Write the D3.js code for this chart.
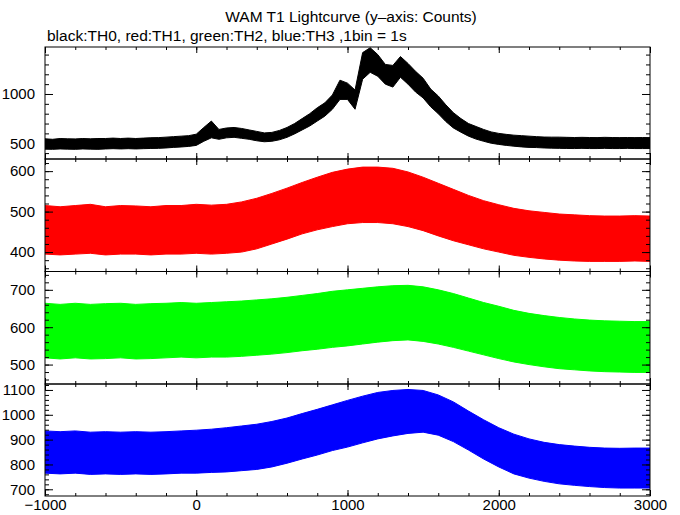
<!DOCTYPE html>
<html><head><meta charset="utf-8">
<script src="https://cdn.jsdelivr.net/npm/d3@7"></script>
<style>body{margin:0;background:#fff}svg{display:block}</style>
</head><body>
<svg id="c" width="680" height="515"></svg>
<script>
// ---- data (per-bin envelope, low/high counts) ----
const xTicksMajor = [-1000, 0, 1000, 2000, 3000];
const xTickLabels = ["\u22121000", "0", "1000", "2000", "3000"];

const th0Time = d3.range(-1000, 3001, 50);
const th0Low  = [440,438,442,440,438,442,440,438,442,445,442,445,442,445,447,448,452,458,462,468,
                 478,520,555,540,555,560,550,540,525,515,520,535,560,595,635,675,725,775,845,945,
                 945,845,1150,1220,1180,1100,1070,1170,1100,1020,960,870,800,720,655,612,572,542,520,500,
                 488,478,470,463,458,456,452,450,448,447,446,448,446,446,448,446,446,448,446,446,446];
const th0High = [545,540,548,545,544,548,545,548,548,552,548,552,548,552,556,557,562,567,572,577,
                 592,660,725,640,655,660,650,635,620,605,610,630,660,700,750,800,860,910,990,1140,
                 1110,1040,1420,1470,1400,1300,1290,1380,1310,1230,1160,1050,980,890,810,750,700,670,640,615,
                 600,590,582,577,572,567,563,562,562,560,558,560,558,557,560,558,557,558,557,558,557];

const th1Time = d3.range(-1000, 3001, 100);
const th1Low  = [395,393,395,397,393,395,395,393,395,395,397,395,397,400,408,420,432,445,455,463,
                 470,473,473,470,463,453,440,428,418,408,400,392,387,383,380,378,377,377,377,378,377];
const th1High = [515,512,515,518,512,515,514,512,515,515,518,516,518,524,533,545,558,572,585,597,
                 605,610,610,607,598,585,570,555,540,527,517,508,502,498,494,492,490,489,489,490,489];

const th2Time = d3.range(-1000, 3001, 100);
const th2Low  = [518,515,518,515,516,518,515,516,518,520,518,520,520,522,525,528,532,537,541,546,
                 550,555,560,564,566,562,555,546,536,526,516,507,500,494,489,486,483,481,480,479,479];
const th2High = [664,661,664,661,663,664,661,663,664,666,664,666,668,670,673,676,680,685,690,696,
                 700,704,708,711,712,708,700,690,678,666,656,645,637,631,626,622,619,617,616,615,615];

const th3Time = d3.range(-1000, 3001, 100);
const th3Low  = [765,762,765,760,762,760,762,760,762,765,765,768,770,775,780,790,805,822,838,856,
                 870,887,903,915,925,930,918,892,858,822,790,762,745,732,722,716,711,707,705,705,705];
const th3High = [935,932,935,930,932,930,932,930,932,935,938,942,948,955,962,973,987,1005,1022,1040,
                 1058,1075,1090,1098,1102,1098,1080,1052,1015,980,948,922,903,889,880,874,869,866,865,866,866];

const panelDomains = [[340, 1477], [352, 630], [448, 749], [673, 1124]];
const panelMajor = [[500, 1000], [400, 500, 600], [500, 600, 700], [700, 800, 900, 1000, 1100]];
const panelMinorStep = [100, 20, 20, 20];
const panelColors = ["#000000", "#ff0000", "#00ff00", "#0000ff"];

const series = [
  {t: th0Time, lo: th0Low, hi: th0High},
  {t: th1Time, lo: th1Low, hi: th1High},
  {t: th2Time, lo: th2Low, hi: th2High},
  {t: th3Time, lo: th3Low, hi: th3High}
];

// ---- layout ----
const L = 45, R = 650;
const panelTops = [47, 159, 271.5, 384];
const panelH = [112, 112.5, 112.5, 112];
const svg = d3.select("#c");
const font = "Liberation Sans, Arial, Helvetica, sans-serif";
const fmt = d3.format("d");

svg.append("text").attr("x", 351).attr("y", 22).attr("text-anchor", "middle")
  .attr("font-family", font).attr("font-size", 15.5).text("WAM T1 Lightcurve (y\u2013axis: Counts)");
svg.append("text").attr("x", 47).attr("y", 41).attr("text-anchor", "start")
  .attr("font-family", font).attr("font-size", 15.5).text("black:TH0, red:TH1, green:TH2, blue:TH3 ,1bin = 1s");

const x = d3.scaleLinear().domain([-1000, 3000]).range([L, R]);
const xMinor = d3.range(-1000, 3001, 200);

series.forEach((s, i) => {
  const top = panelTops[i], h = panelH[i], bot = top + h;
  const y = d3.scaleLinear().domain(panelDomains[i]).range([bot, top]);
  const g = svg.append("g");
  const clipId = "clip" + i;
  svg.append("clipPath").attr("id", clipId).append("rect")
    .attr("x", L).attr("y", top).attr("width", R - L).attr("height", h);
  const pts = s.t.map((t, k) => ({t, lo: s.lo[k], hi: s.hi[k]}));
  g.append("path").datum(pts).attr("clip-path", `url(#${clipId})`)
    .attr("d", d3.area().x(d => x(d.t)).y0(d => y(d.lo)).y1(d => y(d.hi)).curve(d3.curveLinear))
    .attr("fill", panelColors[i]).attr("stroke", panelColors[i]).attr("stroke-width", 1);

  // frame
  g.append("rect").attr("x", L).attr("y", top).attr("width", R - L).attr("height", h)
    .attr("fill", "none").attr("stroke", "#000").attr("stroke-width", 1);

  // y ticks (left & right, inward)
  const [d0, d1] = panelDomains[i];
  const minorVals = d3.range(Math.ceil(d0 / panelMinorStep[i]) * panelMinorStep[i], d1, panelMinorStep[i]);
  const yl = d3.axisLeft(y).tickValues(minorVals).tickSize(-4).tickFormat("");
  const yr = d3.axisRight(y).tickValues(minorVals).tickSize(-4).tickFormat("");
  const ylM = d3.axisLeft(y).tickValues(panelMajor[i]).tickSize(-8).tickPadding(10).tickFormat(fmt);
  const yrM = d3.axisRight(y).tickValues(panelMajor[i]).tickSize(-8).tickFormat("");
  [g.append("g").attr("transform", `translate(${L},0)`).call(yl),
   g.append("g").attr("transform", `translate(${R},0)`).call(yr),
   g.append("g").attr("transform", `translate(${L},0)`).call(ylM),
   g.append("g").attr("transform", `translate(${R},0)`).call(yrM)].forEach(a => {
     a.select(".domain").remove();
     a.selectAll("line").attr("stroke", "#000");
     a.selectAll("text").attr("font-family", font).attr("font-size", 15).attr("fill", "#000");
   });

  // x ticks top & bottom, inward
  const xb = d3.axisBottom(x).tickValues(xMinor).tickSize(-3).tickFormat("");
  const xt = d3.axisTop(x).tickValues(xMinor).tickSize(-3).tickFormat("");
  const xbM = d3.axisBottom(x).tickValues(xTicksMajor).tickSize(-6)
    .tickFormat((d, k) => i === 3 ? xTickLabels[k] : "").tickPadding(3);
  const xtM = d3.axisTop(x).tickValues(xTicksMajor).tickSize(-6).tickFormat("");
  [g.append("g").attr("transform", `translate(0,${bot})`).call(xb),
   g.append("g").attr("transform", `translate(0,${top})`).call(xt),
   g.append("g").attr("transform", `translate(0,${bot})`).call(xbM),
   g.append("g").attr("transform", `translate(0,${top})`).call(xtM)].forEach(a => {
     a.select(".domain").remove();
     a.selectAll("line").attr("stroke", "#000");
     a.selectAll("text").attr("font-family", font).attr("font-size", 15).attr("fill", "#000");
   });
});
</script>
</body></html>
